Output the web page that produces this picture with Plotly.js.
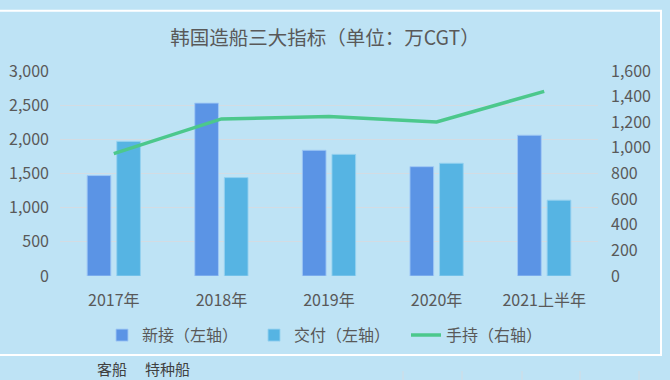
<!DOCTYPE html>
<html><head><meta charset="utf-8">
<script src="https://cdn.plot.ly/plotly-3.0.1.min.js"></script>
<style>html,body{margin:0;padding:0;background:#BEE3F5}#chart{width:670px;height:380px}</style>
</head><body><div id="chart"></div>
<script>
const categories = ['2017年', '2018年', '2019年', '2020年', '2021上半年'];
const newOrders = [1470, 2530, 1840, 1600, 2060];
const deliveries = [1970, 1440, 1780, 1650, 1110];
const backlog = [955, 1226, 1244, 1202, 1441];
const seriesNames = ['新接（左轴）', '交付（左轴）', '手持（右轴）'];
const chartTitle = '韩国造船三大指标（单位：万CGT）';
const bottomLabels = ['客船', '特种船'];

const L = 60, R = 598, T = 70.5, B = 276.5;
const px = x => (x - L) / (R - L);
const py = y => (B - y) / (B - T);
const FONT = '"Noto Sans CJK SC", "Liberation Sans", sans-serif';
const TXT = '#595959';

const traces = [
  {type: 'bar', name: seriesNames[0], x: categories, y: newOrders,
   marker: {color: '#5B94E5', line: {color: 'rgba(160,200,245,0.9)', width: 1}}},
  {type: 'bar', name: seriesNames[1], x: categories, y: deliveries,
   marker: {color: '#56B4E3', line: {color: 'rgba(150,210,240,0.9)', width: 1}}},
  {type: 'scatter', mode: 'lines', name: seriesNames[2], x: categories, y: backlog, yaxis: 'y2',
   line: {color: '#4CC88C', width: 3.5}}
];

const shapes = [
  {type: 'rect', xref: 'paper', yref: 'paper', x0: px(-1), x1: px(661), y0: py(356), y1: py(10),
   line: {color: '#FFFFFF', width: 2}, fillcolor: 'rgba(0,0,0,0)', layer: 'below'}
];
[403, 462, 522, 580, 639].forEach(x => shapes.push({type: 'line', xref: 'paper', yref: 'paper',
  x0: px(x), x1: px(x), y0: py(372), y1: py(381), line: {color: '#D3DCE3', width: 1}}));

const layout = {
  width: 670, height: 380,
  margin: {l: L, r: 670 - R, t: T, b: 380 - B, pad: 0},
  paper_bgcolor: '#BEE3F5', plot_bgcolor: 'rgba(0,0,0,0)',
  font: {family: FONT, color: TXT, size: 16},
  title: {text: chartTitle, x: 0.485, xanchor: 'center', y: 1 - 38 / 380, yanchor: 'middle',
          font: {family: FONT, size: 19.5, color: TXT}},
  barmode: 'group', bargap: 0.45, bargroupgap: 0.2,
  showlegend: true,
  legend: {orientation: 'h', x: px(330), xanchor: 'center', y: py(336), yanchor: 'middle',
           entrywidth: 107, itemwidth: 30,
           font: {family: FONT, size: 16, color: TXT}, bgcolor: 'rgba(0,0,0,0)', traceorder: 'normal'},
  xaxis: {type: 'category', showgrid: false, zeroline: false, showline: false, ticks: '',
          tickfont: {family: FONT, size: 16, color: TXT}, ticklabelstandoff: 13},
  yaxis: {range: [0, 3000], dtick: 500, tickformat: ',d', showgrid: true, gridcolor: '#D3DCE3', gridwidth: 1,
          zeroline: false, showline: false, ticks: '', ticklabelstandoff: 10,
          tickfont: {family: FONT, size: 16, color: TXT}},
  yaxis2: {range: [0, 1600], dtick: 200, tickformat: ',d', overlaying: 'y', side: 'right', showgrid: false,
           zeroline: false, showline: false, ticks: '', ticklabelstandoff: 12,
           tickfont: {family: FONT, size: 16, color: TXT}},
  shapes: shapes,
  annotations: [
    {xref: 'paper', yref: 'paper', x: px(95), y: py(369), xanchor: 'left', yanchor: 'middle', showarrow: false,
     text: bottomLabels[0], font: {family: FONT, size: 15, color: '#404040'}},
    {xref: 'paper', yref: 'paper', x: px(143), y: py(369), xanchor: 'left', yanchor: 'middle', showarrow: false,
     text: bottomLabels[1], font: {family: FONT, size: 15, color: '#404040'}}
  ]
};

Plotly.newPlot('chart', traces, layout, {displayModeBar: false, staticPlot: true});
</script></body></html>
